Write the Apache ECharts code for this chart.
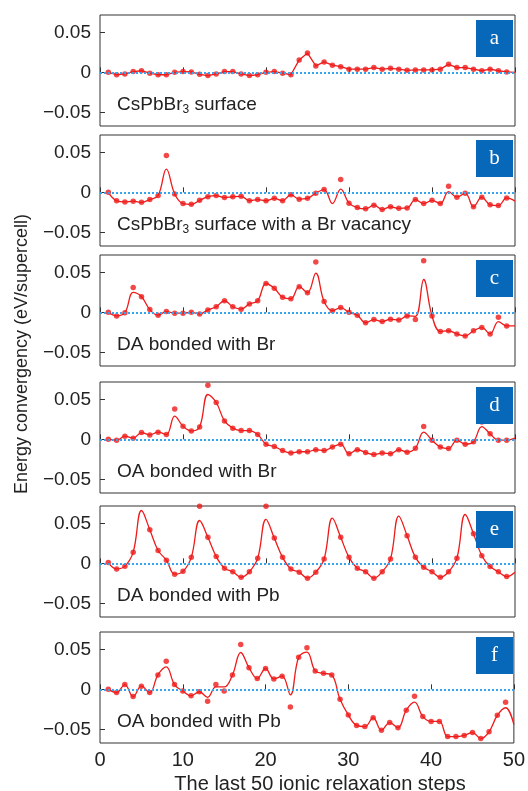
<!DOCTYPE html>
<html>
<head>
<meta charset="utf-8">
<script src="https://cdn.jsdelivr.net/npm/echarts@6/dist/echarts.min.js"></script>
<style>
  html, body { margin: 0; padding: 0; background: #fff; }
  #chart { width: 528px; height: 791px; }
</style>
</head>
<body>
<div id="chart"></div>
<script>
// Ionic relaxation steps (x positions of the sampled energies)
const steps = Array.from({ length: 49 }, (_, i) => i + 1);

// Energy convergence (eV/supercell) at each step, one array per structure
const ptsA = [0, -0.003, -0.002, 0.001, 0.002, -0.001, -0.003, -0.003, 0, 0.001,
  0.0005, -0.0025, -0.004, -0.002, 0.001, 0.001, -0.002, -0.004, -0.003, 0,
  0.001, -0.001, -0.003, 0.0155, 0.024, 0.008, 0.013, 0.009, 0.007, 0.004,
  0.004, 0.004, 0.006, 0.004, 0.005, 0.004, 0.0025, 0.003, 0.003, 0.003,
  0.004, 0.010, 0.006, 0.006, 0.004, 0.002, 0.004, 0.002, 0.0005];
const ptsB = [0, -0.0105, -0.012, -0.011, -0.0125, -0.009, -0.004, 0.046, -0.002, -0.014,
  -0.015, -0.010, -0.0055, -0.004, -0.0065, -0.0055, -0.005, -0.0105, -0.009, -0.0105,
  -0.0075, -0.0105, -0.003, -0.0085, -0.0075, -0.001, 0.0035, null, 0.016, -0.0135,
  -0.019, -0.0205, -0.016, -0.0215, -0.018, -0.020, -0.0195, -0.009, -0.014, -0.010,
  -0.014, 0.0075, -0.006, -0.001, -0.018, -0.006, -0.0155, -0.0165, -0.007];
const ptsC = [0, -0.0045, -0.0005, 0.031, 0.0195, 0.0035, -0.0035, 0.001, -0.001, -0.001,
  0, -0.002, 0.003, 0.007, 0.0145, 0.007, 0.004, 0.0105, 0.0145, 0.036,
  0.030, 0.019, 0.017, 0.032, 0.0245, 0.063, 0.0135, 0.002, 0.006, 0,
  -0.0035, -0.013, -0.009, -0.0115, -0.0085, -0.0095, -0.0045, -0.009, 0.0645, -0.0045,
  -0.024, -0.023, -0.027, -0.0295, -0.023, -0.019, -0.027, -0.006, -0.017];
const ptsD = [0, -0.001, 0.004, 0.0015, 0.0085, 0.0055, 0.009, 0.006, 0.038, 0.0165,
  0.0105, 0.0155, 0.0675, 0.046, 0.023, 0.014, 0.011, 0.011, 0.006, -0.006,
  -0.009, -0.014, -0.017, -0.0155, -0.0155, -0.013, -0.014, -0.0095, -0.006, -0.018,
  -0.013, -0.0165, -0.019, -0.017, -0.018, -0.013, -0.016, -0.011, 0.016, -0.001,
  -0.0095, -0.0115, -0.001, -0.006, -0.003, 0.0215, 0.007, -0.001, -0.001];
const ptsE = [0.001, -0.007, -0.0035, 0.014, null, 0.042, 0.016, 0.004, -0.0135, -0.010,
  0.0075, 0.0712, 0.0325, 0.0085, -0.006, -0.0105, -0.0175, -0.0105, 0.0065, 0.0712,
  0.0315, 0.0075, -0.007, -0.011, -0.0185, -0.011, 0.0055, null, 0.0325, 0.0075,
  -0.006, -0.0105, -0.0185, -0.0105, 0.0055, null, 0.0345, 0.0075, -0.005, -0.0105,
  -0.0175, -0.0105, 0.0065, null, 0.037, 0.0095, -0.004, -0.0105, -0.0165];
const ptsF = [0, -0.004, 0.006, -0.009, 0.004, -0.004, 0.018, 0.035, 0.006, -0.002,
  -0.008, -0.003, -0.015, 0.006, -0.002, 0.018, 0.056, 0.027, 0.0135, 0.026,
  0.013, 0.0165, -0.022, 0.040, 0.052, 0.023, 0.020, 0.018, -0.0125, -0.032,
  -0.045, -0.0465, -0.0355, -0.051, -0.0415, -0.048, -0.026, -0.0085, -0.034, -0.040,
  -0.040, -0.059, -0.059, -0.0575, -0.054, -0.0615, -0.053, -0.0325, -0.016];

// Fitted trend curve: [step, value] where it departs from the sampled points
const fitA = [[50, 0]];
const fitB = [[8, 0.029], [28, -0.014], [29, 0.004], [42, 0.001], [50, -0.011]];
const fitC = [[4, 0.025], [26, 0.049], [38, -0.005], [39, 0.041], [48, -0.0115], [50, -0.017]];
const fitD = [[9, 0.029], [13, 0.056], [39, 0.009], [46, 0.016], [50, 0.0015]];
const fitE = [[5, 0.066], [12, 0.0535], [20, 0.055], [28, 0.0565], [36, 0.059], [44, 0.061], [50, -0.011]];
const fitF = [[8, 0.028], [13, -0.010], [14, 0.003], [15, 0.003], [17, 0.046], [23, -0.007],
  [25, 0.0465], [38, -0.016], [49, -0.023], [50, -0.044]];

const panelLetters = ['a', 'b', 'c', 'd', 'e', 'f'];
const panelNames = [
  ['CsPbBr', '3', ' surface'],
  ['CsPbBr', '3', ' surface with a Br vacancy'],
  ['DA bonded with Br'],
  ['OA bonded with Br'],
  ['DA bonded with Pb'],
  ['OA bonded with Pb']
];
const yTicks = [-0.05, 0, 0.05];
const yTickLabels = ['\u22120.05', '0', '0.05'];
const xTitle = 'The last 50 ionic relaxation steps';
const yTitle = 'Energy convergency (eV/supercell)';

const points = [ptsA, ptsB, ptsC, ptsD, ptsE, ptsF];
const fits = [fitA, fitB, fitC, fitD, fitE, fitF];

// Layout
const SANS = '"Liberation Sans", Arial, Helvetica, sans-serif';
const SERIF = '"Liberation Serif", "Times New Roman", serif';
const tops = [15, 135, 255, 382, 506, 632];
const plotH = 111, plotL = 100, plotW = 415;
const yMin = -0.067, yMax = 0.0716;
const RED = '#ef1a1a';

const grid = [], xAxis = [], yAxis = [], series = [], graphic = [];

tops.forEach((top, i) => {
  grid.push({ left: plotL, width: plotW, top: top, height: plotH,
    show: true, borderColor: '#333', borderWidth: 1, backgroundColor: 'transparent' });

  xAxis.push({
    gridIndex: i, type: 'value', min: 0, max: 50, interval: 10,
    axisLine: { show: false }, splitLine: { show: false },
    axisTick: { show: true, inside: true, length: 5, lineStyle: { color: '#333', width: 1 } },
    axisLabel: { show: i === tops.length - 1, fontSize: 20, color: '#222', fontFamily: SANS, margin: 7 }
  });

  yAxis.push({
    gridIndex: i, type: 'value', min: yMin, max: yMax,
    axisLine: { show: false }, splitLine: { show: false },
    axisTick: { show: true, inside: true, length: 5, customValues: yTicks,
      lineStyle: { color: '#333', width: 1 } },
    axisLabel: { customValues: yTicks, fontSize: 19, color: '#222', fontFamily: SANS, margin: 9,
      formatter: v => yTickLabels[yTicks.findIndex(t => Math.abs(t - v) < 1e-9)] }
  });

  const pts = points[i];
  const curveMap = new Map();
  steps.forEach((s, k) => { if (pts[k] !== null) curveMap.set(s, pts[k]); });
  fits[i].forEach(([s, v]) => curveMap.set(s, v));
  const curve = [...curveMap.entries()].sort((a, b) => a[0] - b[0]);

  // Zero reference line
  series.push({
    type: 'line', xAxisIndex: i, yAxisIndex: i, data: [], z: 2, silent: true,
    markLine: {
      silent: true, symbol: 'none', label: { show: false },
      lineStyle: { color: '#35a6ee', type: [2, 2], width: 2 },
      data: [{ yAxis: 0 }]
    }
  });

  series.push({
    type: 'line', xAxisIndex: i, yAxisIndex: i, data: curve,
    smooth: i === 0 ? false : 0.4, showSymbol: false, symbol: 'none',
    lineStyle: { color: RED, width: 1.3 }, clip: true, z: 3, silent: true
  });

  series.push({
    type: 'scatter', xAxisIndex: i, yAxisIndex: i,
    data: steps.map((s, k) => [s, pts[k]]).filter(d => d[1] !== null),
    symbolSize: 5.5, itemStyle: { color: RED }, clip: true, z: 4, silent: true
  });

  // Panel letter box
  graphic.push({ type: 'rect', left: 476, top: top + 5, z: 10,
    shape: { width: 37, height: 37 }, style: { fill: '#0767b9' } });
  graphic.push({ type: 'text', x: 494.5, y: top + 23, z: 11,
    style: { text: panelLetters[i], fill: '#fff', font: '21px ' + SERIF,
      align: 'center', verticalAlign: 'middle' } });

  // Panel caption, with subscript where needed
  const parts = panelNames[i];
  let txt;
  if (parts.length === 3) txt = '{m|' + parts[0] + '}{s|' + parts[1] + '}{m|' + parts[2] + '}';
  else txt = '{m|' + parts[0] + '}';
  graphic.push({ type: 'text', x: 117, y: top + 90, z: 11,
    style: { text: txt, align: 'left', verticalAlign: 'middle',
      rich: {
        m: { fontSize: 19, fontFamily: SANS, fill: '#222', color: '#222', lineHeight: 22 },
        s: { fontSize: 12, fontFamily: SANS, fill: '#222', color: '#222', lineHeight: 12, verticalAlign: 'bottom' }
      } } });
});

graphic.push({ type: 'text', x: 320, y: 784,
  style: { text: xTitle, font: '20px ' + SANS, fill: '#222', align: 'center', verticalAlign: 'middle' } });
graphic.push({ type: 'text', x: 22, y: 354, rotation: Math.PI / 2,
  style: { text: yTitle, font: '18px ' + SANS, fill: '#222', align: 'center', verticalAlign: 'middle' } });

const chart = echarts.init(document.getElementById('chart'), null, { renderer: 'canvas' });
chart.setOption({
  animation: false,
  backgroundColor: '#fff',
  grid, xAxis, yAxis, series, graphic
});
</script>
</body>
</html>
